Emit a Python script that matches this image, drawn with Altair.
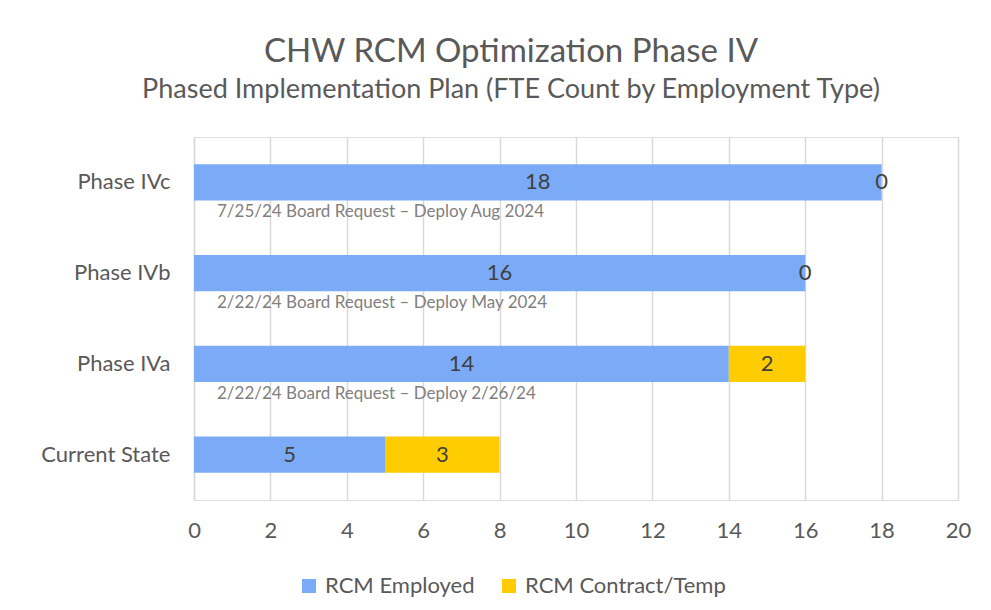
import altair as alt
import pandas as pd

phases = ["Phase IVc", "Phase IVb", "Phase IVa", "Current State"]
employed = [18, 16, 14, 5]
contract = [0, 0, 2, 3]
notes = [
    "7/25/24 Board Request \u2013 Deploy Aug 2024",
    "2/22/24 Board Request \u2013 Deploy May 2024",
    "2/22/24 Board Request \u2013 Deploy 2/26/24",
    "",
]
series = ["RCM Employed", "RCM Contract/Temp"]
colors = ["#7BABF7", "#FFCC00"]
x_ticks = list(range(0, 21, 2))

rows = []
for p, e, c in zip(phases, employed, contract):
    rows.append({"phase": p, "type": series[0], "ord": 0, "value": e})
    rows.append({"phase": p, "type": series[1], "ord": 1, "value": c})
df = pd.DataFrame(rows)
notes_df = pd.DataFrame({"phase": phases, "note": notes, "start": [0] * len(phases)})

FONT = "Lato"
GREY = "#595959"

y_enc = alt.Y(
    "phase:N",
    sort=phases,
    scale=alt.Scale(paddingInner=0.6, paddingOuter=0.3),
    axis=alt.Axis(
        title=None, ticks=False, domain=True, domainColor="#D9D9D9", domainWidth=1.5,
        labelFont=FONT, labelFontSize=22, labelColor=GREY, labelPadding=24,
    ),
)

base = alt.Chart(df).transform_stack(
    stack="value", groupby=["phase"], as_=["x0", "x1"], sort=[alt.SortField("ord")]
).transform_calculate(mid="(datum.x0 + datum.x1) / 2")

bars = base.mark_bar().encode(
    x=alt.X(
        "x0:Q",
        scale=alt.Scale(domain=[0, 20], nice=False),
        axis=alt.Axis(
            title=None, values=x_ticks, ticks=False, domain=False,
            grid=True, gridColor="#D9D9D9", gridWidth=1.5, labelFlush=False,
            labelFont=FONT, labelFontSize=22, labelColor=GREY, labelPadding=20,
        ),
    ),
    x2="x1:Q",
    y=y_enc,
    color=alt.Color(
        "type:N",
        scale=alt.Scale(domain=series, range=colors),
        legend=alt.Legend(
            title=None, orient="none", direction="horizontal",
            legendX=104, legendY=438, symbolType="square", symbolSize=196,
            symbolStrokeWidth=0, labelFont=FONT, labelFontSize=22, labelColor=GREY,
            columnPadding=23, labelOffset=5, labelLimit=0,
        ),
    ),
)

labels = base.mark_text(font=FONT, fontSize=22, color="#404040", baseline="middle").encode(
    x="mid:Q",
    y=alt.Y("phase:N", sort=phases),
    text="value:Q",
)

note_text = alt.Chart(notes_df).mark_text(
    font=FONT, fontSize=17, color="#7F7F7F", align="left", baseline="middle", dx=23, dy=30
).encode(
    x="start:Q",
    y=alt.Y("phase:N", sort=phases),
    text="note:N",
)

chart = alt.layer(bars, labels, note_text).properties(
    width=764,
    height=363,
    autosize=alt.AutoSizeParams(type="none"),
    padding={"left": 186, "top": 129, "right": 25, "bottom": 100},
    title=alt.TitleParams(
        text="CHW RCM Optimization Phase IV",
        subtitle="Phased Implementation Plan (FTE Count by Employment Type)",
        font=FONT, fontSize=33, fontWeight="normal", color=GREY,
        subtitleFont=FONT, subtitleFontSize=27, subtitleColor=GREY,
        subtitlePadding=8, anchor="middle", dx=-65, offset=34,
    ),
).configure_view(stroke=None).configure(background="white")

chart.save("out.html", embed_options={"renderer": "svg", "actions": False})
